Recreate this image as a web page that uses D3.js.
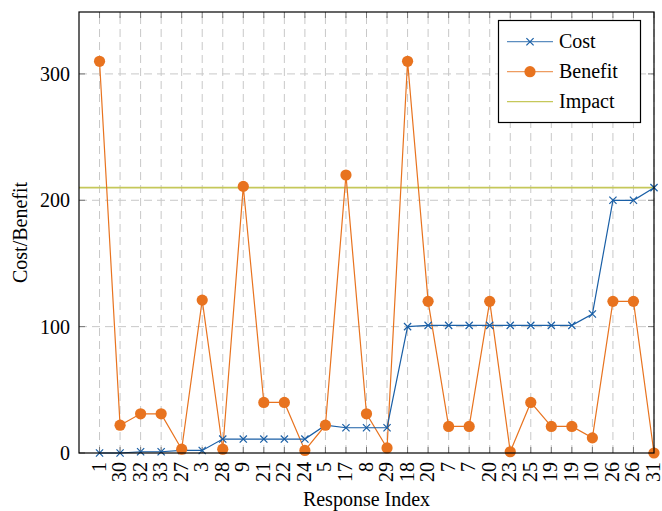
<!DOCTYPE html>
<html><head><meta charset="utf-8">
<script src="https://cdn.jsdelivr.net/npm/d3@7"></script>
<style>body{margin:0;background:#fff}svg{display:block}
svg text{font-family:"Liberation Serif","Tinos","Times New Roman","Nimbus Roman","Nimbus Roman No9 L","FreeSerif","Noto Serif","DejaVu Serif",Georgia,serif;}</style>
</head><body>
<svg id="c" width="662" height="511"></svg>
<script>
const labels = ["1","30","32","33","27","3","28","9","21","22","24","5","17","8","29","18","20","7","7","20","23","25","19","19","10","26","26","31"];
const cost = [0,0,1,1,2,2,11,11,11,11,11,22,20,20,20,100,101,101,101,101,101,101,101,101,110,200,200,210];
const benefit = [310,22,31,31,3,121,3,211,40,40,2,22,220,31,4,310,120,21,21,120,1,40,21,21,12,120,120,0];
const impact = 210;
const yTicks = [0,100,200,300];

const W=662,H=511, L=79, R=654, T=12, B=453;
const svg=d3.select("#c");
const x=d3.scaleLinear().domain([-1,labels.length-1]).range([L,R]);
const y=d3.scaleLinear().domain([0,349]).range([B,T]);
const idx=labels.map((d,i)=>i);

const gridC="#c8c8c8";
svg.append("g").selectAll("line").data(idx).join("line")
  .attr("x1",i=>x(i)).attr("x2",i=>x(i)).attr("y1",B).attr("y2",T)
  .attr("stroke",gridC).attr("stroke-width",1).attr("stroke-dasharray","8,5");
svg.append("g").selectAll("line").data(yTicks.filter(d=>d>0)).join("line")
  .attr("x1",L).attr("x2",R).attr("y1",d=>y(d)).attr("y2",d=>y(d))
  .attr("stroke",gridC).attr("stroke-width",1).attr("stroke-dasharray","8,5");

const tickC="#777";
const yt=svg.append("g");
yTicks.forEach(v=>{
  yt.append("line").attr("x1",L).attr("x2",L+6).attr("y1",y(v)).attr("y2",y(v)).attr("stroke",tickC);
  yt.append("line").attr("x1",R-6).attr("x2",R).attr("y1",y(v)).attr("y2",y(v)).attr("stroke",tickC);
});
idx.forEach(i=>{
  yt.append("line").attr("x1",x(i)).attr("x2",x(i)).attr("y1",B).attr("y2",B-6).attr("stroke",tickC);
  yt.append("line").attr("x1",x(i)).attr("x2",x(i)).attr("y1",T).attr("y2",T+6).attr("stroke",tickC);
});

svg.append("line").attr("x1",L).attr("x2",R).attr("y1",y(impact)).attr("y2",y(impact))
  .attr("stroke","#c5c85a").attr("stroke-width",1.6);

const costC="#1a5fa6", benC="#e8731f";
const line=d3.line().x((d,i)=>x(i)).y(d=>y(d));
svg.append("path").datum(benefit).attr("d",line).attr("fill","none").attr("stroke",benC).attr("stroke-width",1.2);
svg.append("path").datum(cost).attr("d",line).attr("fill","none").attr("stroke",costC).attr("stroke-width",1.2);

const s=3.6;
svg.append("g").selectAll("path").data(cost).join("path")
  .attr("d",(d,i)=>`M${x(i)-s},${y(d)-s}L${x(i)+s},${y(d)+s}M${x(i)-s},${y(d)+s}L${x(i)+s},${y(d)-s}`)
  .attr("stroke",costC).attr("stroke-width",1.2).attr("fill","none");
svg.append("g").selectAll("circle").data(benefit).join("circle")
  .attr("cx",(d,i)=>x(i)).attr("cy",d=>y(d)).attr("r",5.6).attr("fill",benC);

svg.append("rect").attr("x",L).attr("y",T).attr("width",R-L).attr("height",B-T)
  .attr("fill","none").attr("stroke","#000").attr("stroke-width",1.2);

svg.append("g").selectAll("text").data(yTicks).join("text")
  .attr("x",70).attr("y",d=>y(d)).attr("dy","0.35em").attr("text-anchor","end")
  .attr("font-size",20).text(d=>d);
svg.append("g").selectAll("text").data(idx).join("text")
  .attr("transform",i=>`translate(${x(i)+6},${462}) rotate(-90)`)
  .attr("text-anchor","end").attr("font-size",20).text(i=>labels[i]);

svg.append("text").attr("x",(L+R)/2).attr("y",506).attr("text-anchor","middle").attr("font-size",20).text("Response Index");
svg.append("text").attr("transform",`translate(27,${(T+B)/2}) rotate(-90)`).attr("text-anchor","middle").attr("font-size",20).text("Cost/Benefit");

const lg=svg.append("g");
lg.append("rect").attr("x",498.5).attr("y",20.5).attr("width",142).attr("height",102)
  .attr("fill","#fff").attr("stroke","#000").attr("stroke-width",1.2);
const items=[{n:"Cost",c:costC,m:"x"},{n:"Benefit",c:benC,m:"o"},{n:"Impact",c:"#c5c85a",m:""}];
items.forEach((it,k)=>{
  const cy=41.7+k*30;
  lg.append("line").attr("x1",507).attr("x2",553).attr("y1",cy).attr("y2",cy).attr("stroke",it.c).attr("stroke-width",1.2).attr("opacity",it.m?0.7:1);
  if(it.m==="x") lg.append("path").attr("d",`M${530-s},${cy-s}L${530+s},${cy+s}M${530-s},${cy+s}L${530+s},${cy-s}`).attr("stroke",it.c).attr("stroke-width",1.2);
  if(it.m==="o") lg.append("circle").attr("cx",530).attr("cy",cy).attr("r",5.6).attr("fill",it.c);
  lg.append("text").attr("x",559).attr("y",cy).attr("dy","0.33em").attr("font-size",20).text(it.n);
});
</script>
</body></html>
